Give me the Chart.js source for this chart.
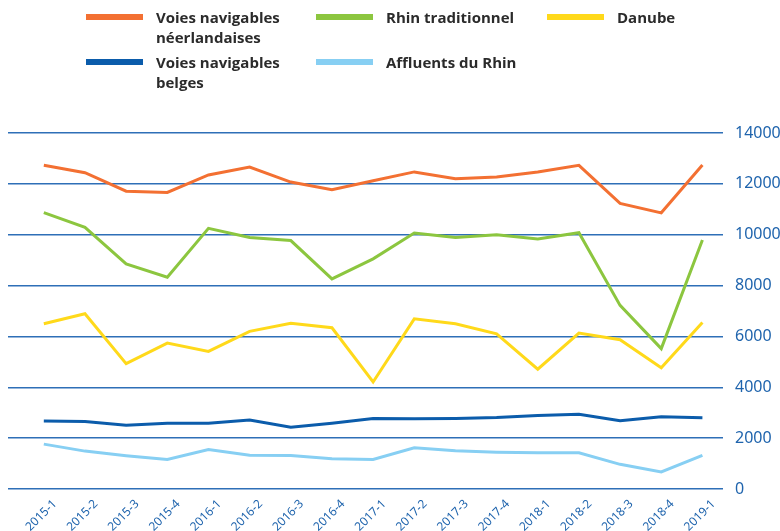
<!DOCTYPE html>
<html>
<head>
<meta charset="utf-8">
<script src="https://cdn.jsdelivr.net/npm/chart.js@4"></script>
<style>
  body { margin: 0; background: #fff; }
  #wrap { position: relative; width: 780px; height: 531px; }
  #legend { position: absolute; left: 86px; top: 7px; display: grid; grid-template-columns: 230px 231px 160px; row-gap: 5px; }
  .item { display: flex; align-items: flex-start; }
  .sw { width: 57px; height: 6px; margin-top: 7px; margin-right: 13px; flex: none; }
  .txt { font-family: "Open Sans", sans-serif; font-weight: bold; font-size: 15px; line-height: 20px; color: #2b2b2b; white-space: pre; }
</style>
</head>
<body>
<div id="wrap">
  <canvas id="myChart"></canvas>
  <div id="legend"></div>
</div>
<script>
var labels = ["2015-1", "2015-2", "2015-3", "2015-4", "2016-1", "2016-2", "2016-3", "2016-4",
  "2017-1", "2017-2", "2017-3", "2017-4", "2018-1", "2018-2", "2018-3", "2018-4", "2019-1"];

var seriesNames = ["Voies navigables\nnéerlandaises", "Rhin traditionnel", "Danube",
  "Voies navigables\nbelges", "Affluents du Rhin"];

var neerlandaises = [12730, 12440, 11710, 11660, 12350, 12660, 12070, 11770, 12120, 12470, 12200, 12270, 12470, 12730, 11230, 10860, 12740];
var rhinTrad = [10870, 10290, 8850, 8330, 10250, 9890, 9770, 8260, 9050, 10070, 9890, 10000, 9830, 10080, 7220, 5520, 9790];
var danube = [6500, 6890, 4930, 5740, 5410, 6200, 6520, 6340, 4210, 6690, 6500, 6100, 4710, 6130, 5870, 4770, 6550];
var belges = [2670, 2650, 2510, 2590, 2590, 2710, 2430, 2590, 2770, 2760, 2770, 2810, 2890, 2940, 2680, 2840, 2800];
var affluents = [1765, 1490, 1310, 1160, 1555, 1330, 1320, 1190, 1160, 1620, 1500, 1450, 1425, 1425, 970, 670, 1320];

var colors = ["#f37032", "#8cc63f", "#ffd91a", "#0b5cab", "#87cff3"];
var values = [neerlandaises, rhinTrad, danube, belges, affluents];

var datasets = values.map(function (v, k) {
  return {
    label: seriesNames[k],
    data: v.map(function (y, i) { return { x: i, y: y }; }),
    borderColor: colors[k],
    backgroundColor: colors[k],
    borderWidth: 3,
    pointRadius: 0,
    tension: 0
  };
});

var ctx = document.getElementById("myChart");
var myChart = new Chart(ctx, {
  type: 'line',
  data: { datasets: datasets },
  options: {
    responsive: true,
    maintainAspectRatio: false,
    animation: false,
    layout: { padding: { top: 133, left: 8, right: 0, bottom: 0 } },
    plugins: { legend: { display: false }, tooltip: { enabled: false } },
    scales: {
      x: {
        type: 'linear',
        min: -0.87,
        max: 16.5,
        afterBuildTicks: function (s) {
          s.ticks = labels.map(function (l, i) { return { value: i }; });
        },
        afterFit: function (s) { s.height = 42; },
        grid: { display: false },
        border: { display: false },
        ticks: {
          autoSkip: false,
          maxRotation: 45,
          minRotation: 45,
          padding: 0,
          labelOffset: 11,
          color: '#1f64ad',
          font: { family: 'Noto Sans', size: 12 },
          callback: function (v) { return labels[v]; }
        }
      },
      y: {
        position: 'right',
        min: 0,
        max: 14000,
        afterFit: function (s) { s.width = 57; },
        border: { display: false },
        grid: { color: '#2e6fb7', lineWidth: 1.5, drawTicks: false },
        ticks: {
          stepSize: 2000,
          padding: 12,
          color: '#1f64ad',
          font: { family: 'Noto Sans', size: 16 },
          callback: function (v) { return String(v); }
        }
      }
    }
  }
});

var legend = document.getElementById("legend");
datasets.forEach(function (d) {
  var item = document.createElement("div");
  item.className = "item";
  var sw = document.createElement("div");
  sw.className = "sw";
  sw.style.background = d.borderColor;
  var txt = document.createElement("div");
  txt.className = "txt";
  txt.textContent = d.label;
  item.appendChild(sw);
  item.appendChild(txt);
  legend.appendChild(item);
});
</script>
</body>
</html>
